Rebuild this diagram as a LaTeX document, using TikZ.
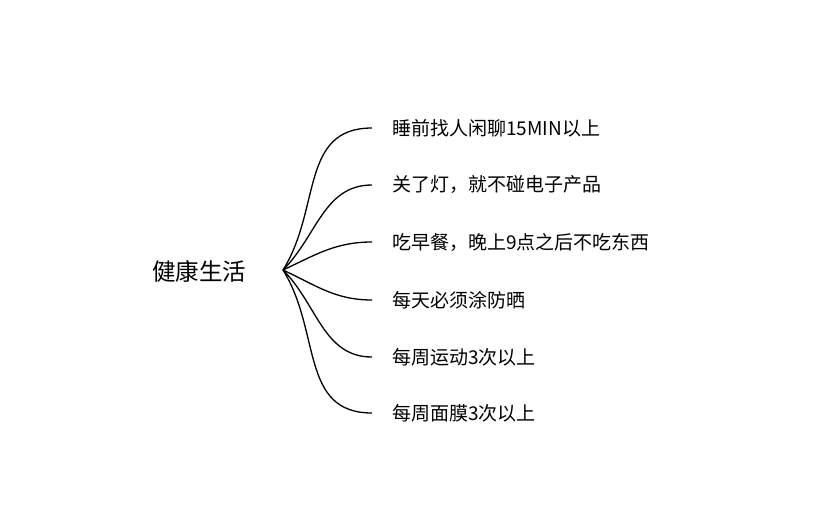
\documentclass[tikz,border=0pt]{standalone}
\usepackage{fontspec}
\setmainfont{Noto Sans CJK SC}
\usetikzlibrary{positioning}

\begin{document}
\begin{tikzpicture}[x=1pt, y=-1pt]
	\useasboundingbox (0,0) rectangle (820,531);
	\tikzset{
		topic/.style={font=\fontsize{23.5}{28}\selectfont, inner sep=0pt},
		leaf/.style={anchor=west, font=\fontsize{19}{23}\selectfont, inner xsep=20pt, inner ysep=0pt},
		branch/.style={line width=1.3pt, black}
	}
	\node[topic] (root) at (199,271) {健康生活};
	\coordinate (hub) at (283,270);
	\node[leaf] (sleep) at (372,128) {睡前找人闲聊15MIN以上};
	\node[leaf] (light) at (372,185) {关了灯，就不碰电子产品};
	\node[leaf] (food) at (372,242) {吃早餐，晚上9点之后不吃东西};
	\node[leaf] (sun) at (372,300) {每天必须涂防晒};
	\node[leaf] (sport) at (372,357) {每周运动3次以上};
	\node[leaf] (mask) at (372,413) {每周面膜3次以上};
	\draw[branch] (hub) to[out=58, in=180, looseness=1.1] (sleep.west);
	\draw[branch] (hub) to[out=45, in=180] (light.west);
	\draw[branch] (hub) to[out=25, in=180] (food.west);
	\draw[branch] (hub) to[out=-25, in=180] (sun.west);
	\draw[branch] (hub) to[out=-45, in=180] (sport.west);
	\draw[branch] (hub) to[out=-58, in=180, looseness=1.1] (mask.west);
\end{tikzpicture}
\end{document}
